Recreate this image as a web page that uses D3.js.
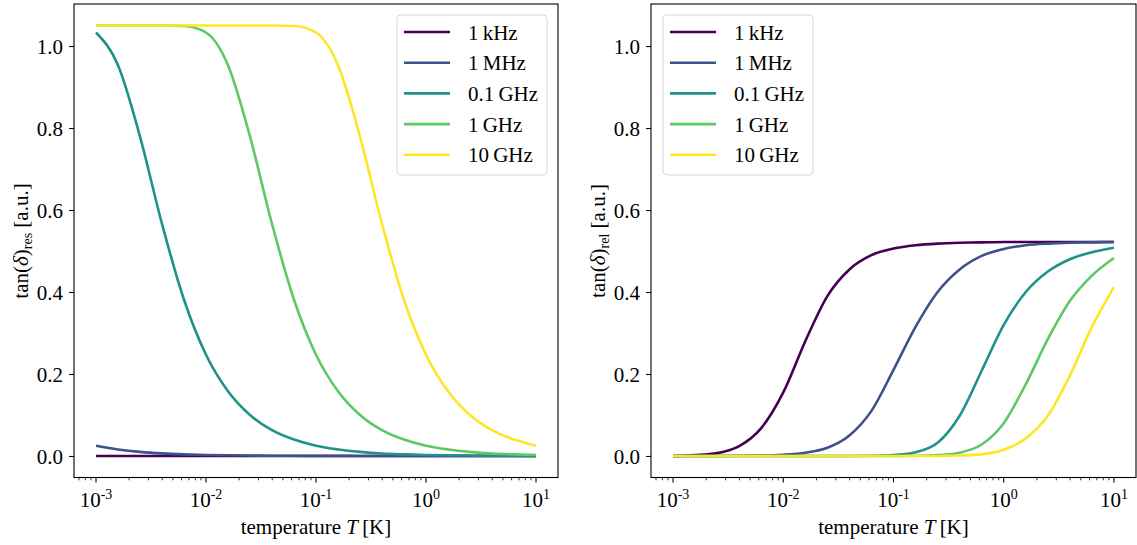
<!DOCTYPE html>
<html>
<head>
<meta charset="utf-8">
<script src="https://cdn.jsdelivr.net/npm/d3@7"></script>
<style>
  body { margin: 0; background: #fff; }
  svg text { font-family: "Liberation Serif", "Times New Roman", Tinos, Times, "DejaVu Serif", serif; fill: #000; }
</style>
</head>
<body>
<script>
// sample temperatures (K), 0.2 decade apart
const temps = [1e-3, 1.585e-3, 2.512e-3, 3.981e-3, 6.310e-3, 1e-2, 1.585e-2, 2.512e-2, 3.981e-2, 6.310e-2,
               1e-1, 1.585e-1, 2.512e-1, 3.981e-1, 6.310e-1, 1, 1.585, 2.512, 3.981, 6.310, 10];

const labels = ["1\u2009kHz", "1\u2009MHz", "0.1\u2009GHz", "1\u2009GHz", "10\u2009GHz"];
const colors = ["#440154", "#3b528b", "#21918c", "#5ec962", "#fde725"];

// resonant loss
const resKHz   = [0, 0, 0, 0, 0, 0, 0, 0, 0, 0, 0, 0, 0, 0, 0, 0, 0, 0, 0, 0, 0];
const resMHz   = [0.025, 0.016, 0.010, 0.0063, 0.0040, 0.0025, 0.0016, 0.0010, 0.0006, 0.0004, 0.0003, 0.0002, 0.0001, 0.0001, 0, 0, 0, 0, 0, 0, 0];
const res01GHz = [1.033, 0.953, 0.779, 0.566, 0.381, 0.247, 0.158, 0.100, 0.063, 0.040, 0.025, 0.016, 0.010, 0.006, 0.004, 0.0025, 0.0016, 0.0010, 0.0006, 0.0004, 0.0003];
const res1GHz  = [1.050, 1.050, 1.050, 1.050, 1.049, 1.033, 0.953, 0.779, 0.566, 0.381, 0.247, 0.158, 0.100, 0.063, 0.040, 0.025, 0.016, 0.010, 0.006, 0.004, 0.0025];
const res10GHz = [1.050, 1.050, 1.050, 1.050, 1.050, 1.050, 1.050, 1.050, 1.050, 1.049, 1.033, 0.953, 0.779, 0.566, 0.381, 0.247, 0.158, 0.100, 0.063, 0.040, 0.025];

// relaxation loss
const relKHz   = [0, 0.002, 0.007, 0.024, 0.068, 0.155, 0.280, 0.390, 0.455, 0.490, 0.506, 0.514, 0.518, 0.520, 0.521, 0.522, 0.522, 0.522, 0.522, 0.522, 0.522];
const relMHz   = [0, 0, 0, 0.0005, 0.001, 0.003, 0.008, 0.020, 0.050, 0.110, 0.210, 0.315, 0.400, 0.455, 0.488, 0.505, 0.514, 0.518, 0.520, 0.521, 0.522];
const rel01GHz = [0, 0, 0, 0, 0, 0, 0, 0, 0, 0.0005, 0.002, 0.009, 0.032, 0.098, 0.208, 0.320, 0.400, 0.450, 0.480, 0.497, 0.508];
const rel1GHz  = [0, 0, 0, 0, 0, 0, 0, 0, 0, 0, 0, 0.0005, 0.002, 0.008, 0.028, 0.080, 0.175, 0.285, 0.378, 0.440, 0.483];
const rel10GHz = [0, 0, 0, 0, 0, 0, 0, 0, 0, 0, 0, 0, 0, 0.001, 0.004, 0.015, 0.043, 0.098, 0.196, 0.315, 0.412];

const yTicks = [0, 0.2, 0.4, 0.6, 0.8, 1.0];
const xTicks = [1e-3, 1e-2, 1e-1, 1, 10];
const xExps  = ["-3", "-2", "-1", "0", "1"];

const width = 1137, height = 545;
const fs = 21;

const svg = d3.select("body")
    .append("svg")
    .attr("width", width)
    .attr("height", height);

function drawPanel(id, left, right, series, sub) {
    const x = d3.scaleLog().domain([Math.pow(10, -3.2), Math.pow(10, 1.2)]).range([left, right]);
    const y = d3.scaleLinear().domain([-0.0525, 1.1025]).range([477.5, 4]);
    const g = svg.append("g");

    g.append("clipPath").attr("id", "clip" + id)
        .append("rect").attr("x", left).attr("y", 4).attr("width", right - left).attr("height", 473.5);

    const line = d3.line()
        .x((d, i) => x(temps[i]))
        .y(d => y(d))
        .curve(d3.curveMonotoneX);

    g.append("g").attr("clip-path", "url(#clip" + id + ")")
        .selectAll("path")
        .data(series)
        .enter().append("path")
        .attr("d", d => line(d))
        .attr("fill", "none")
        .attr("stroke", (d, i) => colors[i])
        .attr("stroke-width", 2.6);

    // y axis
    const ya = g.append("g").attr("transform", `translate(${left},0)`)
        .call(d3.axisLeft(y).tickValues(yTicks).tickFormat(d3.format(".1f")).tickSize(4.9).tickPadding(6));
    ya.attr("font-family", null);
    ya.select(".domain").remove();
    ya.selectAll("line").attr("stroke", "#000").attr("stroke-width", 1.1);
    ya.selectAll("text").style("font-size", fs + "px").attr("dy", "0.34em");

    // x axis, major + minor
    const minor = [];
    for (let e = -4; e <= 1; e++) {
        for (let k = 2; k <= 9; k++) {
            const v = k * Math.pow(10, e);
            if (x(v) >= left && x(v) <= right) minor.push(v);
        }
    }
    const xa = g.append("g").attr("transform", "translate(0,477.5)");
    xa.selectAll(".minor").data(minor).enter().append("line")
        .attr("x1", d => x(d)).attr("x2", d => x(d))
        .attr("y1", 0).attr("y2", 2.8)
        .attr("stroke", "#000").attr("stroke-width", 0.8);
    xa.selectAll(".major").data(xTicks).enter().append("line")
        .attr("x1", d => x(d)).attr("x2", d => x(d))
        .attr("y1", 0).attr("y2", 4.9)
        .attr("stroke", "#000").attr("stroke-width", 1.1);
    const lab = xa.selectAll(".tl").data(xTicks).enter().append("text")
        .attr("x", d => x(d)).attr("y", 29.5)
        .attr("text-anchor", "middle")
        .style("font-size", fs + "px");
    lab.append("tspan").text("10");
    lab.append("tspan").attr("dy", -8).style("font-size", "14px").text((d, i) => xExps[i]);

    // frame
    g.append("rect").attr("x", left).attr("y", 4).attr("width", right - left).attr("height", 473.5)
        .attr("fill", "none").attr("stroke", "#000").attr("stroke-width", 1.1);

    // x label
    const xl = g.append("text").attr("x", (left + right) / 2).attr("y", 534)
        .attr("text-anchor", "middle").style("font-size", fs + "px");
    xl.append("tspan").text("temperature ");
    xl.append("tspan").style("font-style", "italic").text("T");
    xl.append("tspan").text("\u2009[K]");

    // y label
    const yl = g.append("text")
        .attr("transform", `translate(${left - 46},241) rotate(-90)`)
        .attr("text-anchor", "middle").style("font-size", fs + "px");
    yl.append("tspan").text("tan(");
    yl.append("tspan").style("font-style", "italic").text("\u03b4");
    yl.append("tspan").text(")");
    yl.append("tspan").attr("dy", 4).style("font-size", "14px").text(sub);
    yl.append("tspan").attr("dy", -4).text(" [a.u.]");

    // legend
    const lx = left + (id === "a" ? 323 : 12);
    const lg = g.append("g").attr("transform", `translate(${lx},15)`);
    lg.append("rect").attr("x", 0).attr("y", 0).attr("width", 150).attr("height", 160)
        .attr("rx", 4).attr("fill", "#fff").attr("fill-opacity", 0.8)
        .attr("stroke", "#d6d6d6").attr("stroke-width", 1);
    labels.forEach((t, i) => {
        const yy = 17 + i * 30.7;
        lg.append("line").attr("x1", 7).attr("x2", 53).attr("y1", yy).attr("y2", yy)
            .attr("stroke", colors[i]).attr("stroke-width", 2.6);
        lg.append("text").attr("x", 71).attr("y", yy + 7.5).style("font-size", fs + "px").text(t);
    });
}

drawPanel("a", 74, 558, [resKHz, resMHz, res01GHz, res1GHz, res10GHz], "res");
drawPanel("b", 651, 1136, [relKHz, relMHz, rel01GHz, rel1GHz, rel10GHz], "rel");
</script>
</body>
</html>
